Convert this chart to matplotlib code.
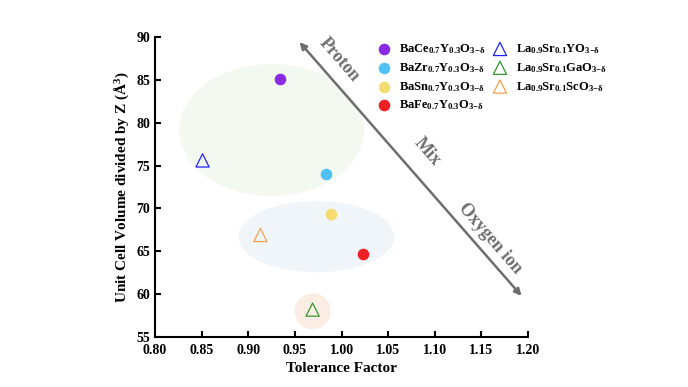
import matplotlib
matplotlib.use("Agg")
import matplotlib.pyplot as plt
from matplotlib.patches import Ellipse

plt.rcParams['font.family'] = ['Liberation Serif', 'DejaVu Serif']
plt.rcParams['font.weight'] = 'bold'
plt.rcParams['mathtext.fontset'] = 'custom'
plt.rcParams['mathtext.rm'] = 'Liberation Serif:bold'
plt.rcParams['mathtext.it'] = 'Liberation Serif:italic:bold'
plt.rcParams['mathtext.bf'] = 'Liberation Serif:bold'
plt.rcParams['mathtext.default'] = 'rm'

# data: tolerance factor vs unit cell volume / Z
labels = [r'BaCe$_{0.7}$Y$_{0.3}$O$_{3\mathrm{-}\delta}$',
          r'BaZr$_{0.7}$Y$_{0.3}$O$_{3\mathrm{-}\delta}$',
          r'BaSn$_{0.7}$Y$_{0.3}$O$_{3\mathrm{-}\delta}$',
          r'BaFe$_{0.7}$Y$_{0.3}$O$_{3\mathrm{-}\delta}$',
          r'La$_{0.9}$Sr$_{0.1}$YO$_{3\mathrm{-}\delta}$',
          r'La$_{0.9}$Sr$_{0.1}$GaO$_{3\mathrm{-}\delta}$',
          r'La$_{0.9}$Sr$_{0.1}$ScO$_{3\mathrm{-}\delta}$']
tol = [0.934, 0.983, 0.989, 1.023, 0.851, 0.969, 0.913]
vol = [85.1, 74.0, 69.35, 64.7, 75.6, 58.2, 66.9]
colors = ['#8a2be2', '#4fc1f5', '#f5dc70', '#ee2026', '#2020ff', '#2e9a2e', '#f5a050']
markers = ['o', 'o', 'o', 'o', '^', '^', '^']

fig = plt.figure(figsize=(6.88, 3.87), dpi=100)
ax = fig.add_axes([0.2253, 0.1292, 0.5422, 0.7752])

# shaded groups
ax.add_patch(Ellipse((0.925, 79.15), 0.198, 15.4, color='#f3f8f0', zorder=0, lw=0))
ax.add_patch(Ellipse((0.973, 66.7), 0.167, 8.3, color='#f0f5fa', zorder=0, lw=0))
ax.add_patch(Ellipse((0.969, 58.0), 0.0386, 4.2, color='#fcede4', zorder=0, lw=0))

for x, y, c, m, lab in zip(tol, vol, colors, markers, labels):
    if m == 'o':
        ax.scatter(x, y, s=70, color=c, marker=m, label=lab, zorder=3, lw=0)
    else:
        ax.scatter(x, y, s=90, facecolor='none', edgecolor=c, marker=m, label=lab, zorder=3, lw=0.9)

# arrow
ax.annotate('', xy=(1.195, 59.55), xytext=(0.953, 89.65),
            arrowprops=dict(arrowstyle='<|-|>', color='#6e6e6e', lw=1.8, mutation_scale=10),
            annotation_clip=False)
ax.text(0.998, 87.3, 'Proton', rotation=-49, color='#6e6e6e', fontsize=13, ha='center', va='center')
ax.text(1.092, 76.6, 'Mix', rotation=-49, color='#6e6e6e', fontsize=13, ha='center', va='center')
ax.text(1.159, 66.55, 'Oxygen ion', rotation=-49, color='#6e6e6e', fontsize=13, ha='center', va='center')

ax.set_xlim(0.80, 1.20)
ax.set_ylim(55, 90)
ax.set_xticks([0.80, 0.85, 0.90, 0.95, 1.00, 1.05, 1.10, 1.15, 1.20])
ax.set_yticks([55, 60, 65, 70, 75, 80, 85, 90])
ax.spines['top'].set_visible(False)
ax.spines['right'].set_visible(False)
ax.spines['left'].set_linewidth(1.5)
ax.spines['bottom'].set_linewidth(1.5)
ax.tick_params(direction='in', width=1.5, length=4, labelsize=10)
ax.tick_params(axis='x', pad=5)
ax.set_xlabel('Tolerance Factor', fontsize=11, fontweight='bold')
ax.set_ylabel(r'Unit Cell Volume divided by Z (Å$^3$)', fontsize=11, fontweight='bold')

ax.legend(loc='upper left', bbox_to_anchor=(368 / 688, 1 - 36 / 387), bbox_transform=fig.transFigure,
          ncol=2, frameon=False, fontsize=9, handletextpad=0.5, columnspacing=0.4,
          labelspacing=0.4, borderpad=0, handlelength=1.5)

fig.savefig('out.png', dpi=100)
